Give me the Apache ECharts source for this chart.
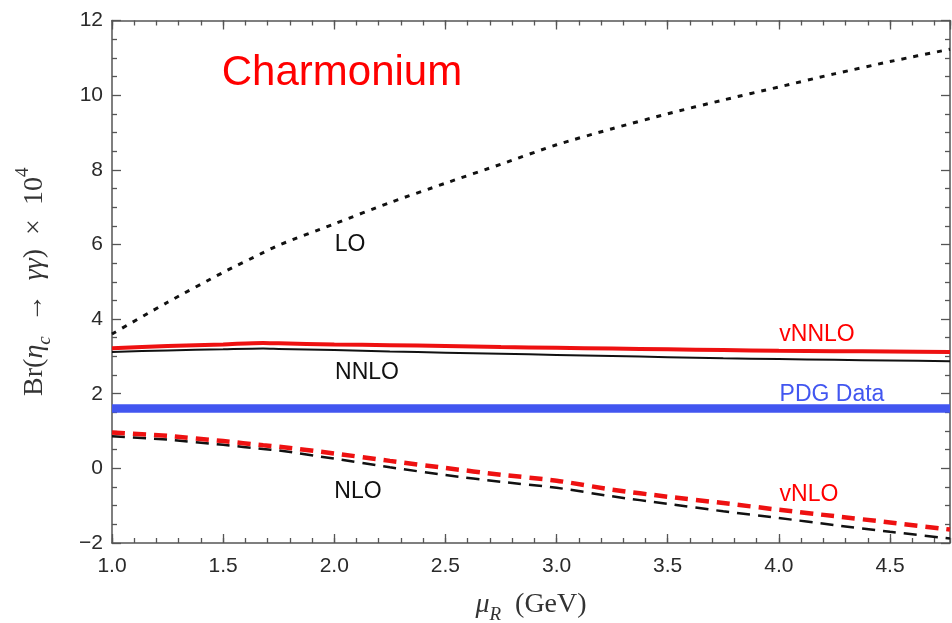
<!DOCTYPE html>
<html>
<head>
<meta charset="utf-8">
<title>Charmonium Br(eta_c -> gamma gamma)</title>
<script src="https://cdn.jsdelivr.net/npm/echarts@6/dist/echarts.min.js"></script>
<style>
  html, body { margin: 0; padding: 0; background: #fff; }
  #chart { width: 952px; height: 623px; }
</style>
</head>
<body>
<div id="chart"></div>
<script>
// Renormalisation scale mu_R (GeV)
const muR = [1.0, 1.25, 1.5, 1.68, 1.75, 2.0, 2.25, 2.5, 2.75, 3.0, 3.25, 3.5, 3.75, 4.0, 4.25, 4.5, 4.77];

// Branching ratio x 10^4 at each order
const LO    = [3.60, 4.45, 5.25, 5.78, 5.98, 6.55, 7.12, 7.64, 8.15, 8.67, 9.10, 9.50, 9.87, 10.22, 10.57, 10.90, 11.23];
const NLO   = [0.86, 0.77, 0.63, 0.52, 0.48, 0.26, 0.03, -0.18, -0.36, -0.52, -0.75, -0.95, -1.15, -1.33, -1.52, -1.70, -1.88];
const vNLO  = [0.96, 0.87, 0.73, 0.62, 0.58, 0.40, 0.20, 0.01, -0.17, -0.33, -0.57, -0.76, -0.93, -1.11, -1.28, -1.45, -1.64];
const NNLO  = [3.12, 3.16, 3.19, 3.21, 3.20, 3.17, 3.13, 3.10, 3.07, 3.04, 3.01, 2.98, 2.95, 2.93, 2.91, 2.89, 2.87];
const vNNLO = [3.22, 3.28, 3.32, 3.36, 3.35, 3.32, 3.30, 3.28, 3.25, 3.23, 3.21, 3.19, 3.17, 3.15, 3.14, 3.13, 3.12];

// PDG measurement band (x 10^4)
const pdgLow = 1.49;
const pdgHigh = 1.72;

// Axis ranges and tick steps
const xMin = 1.0, xMax = 4.77, xMajor = 0.5, xMinor = 0.1;
const yMin = -2, yMax = 12, yMajor = 2;

const pairs = arr => muR.map((x, i) => [x, arr[i]]);

const RED = '#ee1111';
const BLUE = '#4256f0';
const FRAME = '#555';
const sans = 'Liberation Sans, Arial, sans-serif';
const serif = 'Liberation Serif, Times New Roman, serif';

const chart = echarts.init(document.getElementById('chart'), null, { renderer: 'canvas' });

const frameLine = { show: true, onZero: false, lineStyle: { color: FRAME, width: 1.5 } };

const nameRich = {
  t: { fontFamily: serif, fontSize: 28, color: '#333', lineHeight: 34, verticalAlign: 'middle' },
  i: { fontFamily: serif, fontStyle: 'italic', fontSize: 28, color: '#333', lineHeight: 34, verticalAlign: 'middle' },
  s: { fontFamily: serif, fontStyle: 'italic', fontSize: 19, color: '#333', lineHeight: 34, verticalAlign: 'bottom', padding: [0, 0, -2, 0] },
  p: { fontFamily: serif, fontSize: 19, color: '#333', lineHeight: 34, verticalAlign: 'top', padding: [-4, 0, 0, 0] }
};

function xAxisDef(position, interval, tickLen, showLabel, withName) {
  const ax = {
    type: 'value', position: position, min: xMin, max: xMax, interval: interval,
    axisLine: frameLine,
    axisTick: { show: true, inside: true, length: tickLen, lineStyle: { color: FRAME, width: 1.3 } },
    axisLabel: {
      show: showLabel, margin: 13, fontSize: 21, fontFamily: sans, color: '#2a2a2a',
      showMaxLabel: false,
      formatter: v => v.toFixed(1)
    },
    splitLine: { show: false }
  };
  if (withName) {
    ax.name = '{i|μ}{s|R}{t|  (GeV)}';
    ax.nameLocation = 'middle';
    ax.nameGap = 45;
    ax.nameTextStyle = { rich: nameRich };
  }
  return ax;
}

function yAxisDef(position, showLabel, withName) {
  const ax = {
    type: 'value', position: position, min: yMin, max: yMax, interval: yMajor,
    axisLine: frameLine,
    axisTick: { show: true, inside: true, length: 9, lineStyle: { color: FRAME, width: 1.3 } },
    minorTick: { show: true, splitNumber: 4, length: 5, lineStyle: { color: FRAME, width: 1.3 } },
    axisLabel: {
      show: showLabel, margin: 9, fontSize: 21, fontFamily: sans, color: '#2a2a2a',
      formatter: v => (v < 0 ? '\u2212' + Math.abs(v) : String(v))
    },
    splitLine: { show: false },
    minorSplitLine: { show: false }
  };
  if (withName) {
    ax.name = '{t|Br(}{i|η}{s|c}{t|  →  }{i|γγ}{t|)  ×  10}{p|4}';
    ax.nameLocation = 'middle';
    ax.nameRotate = 90;
    ax.nameGap = 60;
    ax.nameTextStyle = { rich: nameRich };
  }
  return ax;
}

// Bottom and top frame: one axis for major ticks, one for the 0.1 minor ticks
const xAxes = [
  xAxisDef('bottom', xMajor, 9, true, true),
  xAxisDef('top', xMajor, 9, false, false),
  Object.assign(xAxisDef('bottom', xMinor, 5, false, false), { axisLine: { show: false, onZero: false } }),
  Object.assign(xAxisDef('top', xMinor, 5, false, false), { axisLine: { show: false, onZero: false } })
];

const yAxes = [
  yAxisDef('left', true, true),
  yAxisDef('right', false, false)
];

function lineSeries(name, data, color, width, dash) {
  return {
    name: name, type: 'line', xAxisIndex: 0, yAxisIndex: 0,
    data: pairs(data), showSymbol: false, smooth: 0.25,
    lineStyle: { color: color, width: width, type: dash || 'solid', cap: 'butt' },
    z: 3
  };
}

const label = (text, x, y, color, size) => ({
  type: 'text', x: x, y: y,
  style: {
    text: text, fill: color, fontSize: size, fontFamily: sans,
    align: 'center', verticalAlign: 'middle'
  }
});

const option = {
  animation: false,
  backgroundColor: '#fff',
  grid: { left: 112, right: 2, top: 20.5, bottom: 80, containLabel: false, outerBoundsMode: 'none' },
  xAxis: xAxes,
  yAxis: yAxes,
  series: [
    {
      name: 'PDG Data', type: 'line', xAxisIndex: 0, yAxisIndex: 0, data: [],
      markArea: {
        silent: true,
        itemStyle: { color: BLUE, opacity: 1 },
        data: [[{ yAxis: pdgLow }, { yAxis: pdgHigh }]]
      },
      z: 2
    },
    lineSeries('LO', LO, '#111', 3, [5, 7]),
    lineSeries('NLO', NLO, '#111', 2.5, [13, 8]),
    lineSeries('vNLO', vNLO, RED, 4.5, [13, 8]),
    lineSeries('NNLO', NNLO, '#111', 2),
    lineSeries('vNNLO', vNNLO, RED, 4)
  ],
  graphic: [
    label('Charmonium', 342, 73, '#ff0000', 42),
    label('LO', 350, 245, '#111', 23),
    label('vNNLO', 817, 335, '#ff0000', 23),
    label('NNLO', 367, 373, '#111', 23),
    label('PDG Data', 832, 395, BLUE, 23),
    label('NLO', 358, 492, '#111', 23),
    label('vNLO', 809, 495, '#ff0000', 23)
  ]
};

chart.setOption(option);
</script>
</body>
</html>
